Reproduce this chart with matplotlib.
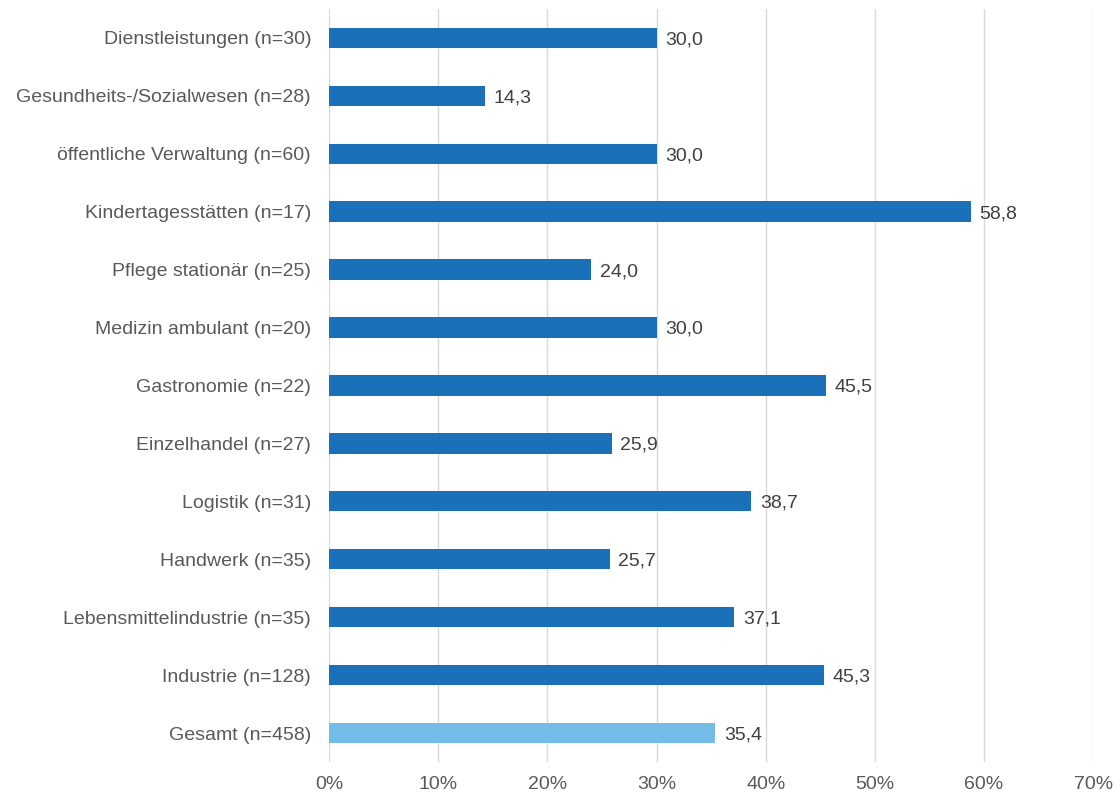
import matplotlib
matplotlib.use("Agg")
import matplotlib.pyplot as plt
from matplotlib.ticker import FuncFormatter

categories = [
    "Dienstleistungen (n=30)",
    "Gesundheits-/Sozialwesen (n=28)",
    "öffentliche Verwaltung (n=60)",
    "Kindertagesstätten (n=17)",
    "Pflege stationär (n=25)",
    "Medizin ambulant (n=20)",
    "Gastronomie (n=22)",
    "Einzelhandel (n=27)",
    "Logistik (n=31)",
    "Handwerk (n=35)",
    "Lebensmittelindustrie (n=35)",
    "Industrie (n=128)",
    "Gesamt (n=458)",
]
values = [30.0, 14.3, 30.0, 58.8, 24.0, 30.0, 45.5, 25.9, 38.7, 25.7, 37.1, 45.3, 35.4]
xticks = [0, 10, 20, 30, 40, 50, 60, 70]

plt.rcParams['font.family'] = ['Liberation Sans', 'DejaVu Sans']

fig = plt.figure(figsize=(11.2, 7.98), dpi=100)
ax = fig.add_axes([0.2938, 0.045, 0.976 - 0.2938, 0.989 - 0.045])

dark = "#1b70ba"
light = "#74bce8"
colors = [dark] * (len(values) - 1) + [light]
ypos = list(range(len(values)))
ax.barh(ypos, values, height=0.35, color=colors, zorder=3)
for y, v in zip(ypos, values):
    ax.text(v + 0.8, y, f"{v:.1f}".replace(".", ","), va="center_baseline", ha="left",
            fontsize=14, color="#404040")

ax.set_ylim(len(values) - 0.5, -0.5)
ax.set_xlim(0, 70)
ax.set_xticks(xticks)
ax.xaxis.set_major_formatter(FuncFormatter(lambda x, p: f"{int(x)}%"))
ax.set_yticks(ypos)
ax.set_yticklabels(categories)
ax.tick_params(axis="both", length=0, labelsize=14, labelcolor="#595959")
ax.tick_params(axis="y", pad=13)
ax.tick_params(axis="x", pad=10)
ax.grid(axis="x", color="#d9d9d9", linewidth=1.0, zorder=0)
for s in ax.spines.values():
    s.set_visible(False)

fig.savefig("out.png", dpi=100)
